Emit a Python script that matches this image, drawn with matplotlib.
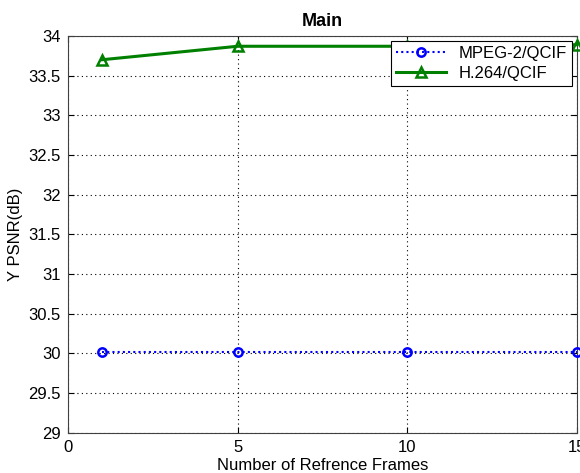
import matplotlib
matplotlib.use("Agg")
from matplotlib import pyplot as plt

plt.rcParams['font.family'] = ['Liberation Sans', 'DejaVu Sans']

frames = [1, 5, 10, 15]
mpeg2_psnr = [30.02, 30.02, 30.02, 30.02]
h264_psnr = [33.70, 33.87, 33.87, 33.89]

fig = plt.figure(figsize=(5.8, 4.73), dpi=100)
ax = fig.add_axes([0.117, 0.085, 0.878, 0.839])

ax.plot(frames, mpeg2_psnr, color='blue', linestyle=(0, (1, 1.5)), linewidth=1.5,
        marker='o', markersize=6, markerfacecolor='none', markeredgewidth=1.8,
        label='MPEG-2/QCIF', clip_on=False, zorder=3)
ax.plot(frames, h264_psnr, color='green', linestyle='-', linewidth=2.2,
        marker='^', markersize=7, markerfacecolor='none', markeredgewidth=1.8,
        label='H.264/QCIF', clip_on=False, zorder=3)

ax.set_xlim(0, 15)
ax.set_ylim(29, 34)
ax.set_xticks([0, 5, 10, 15])
ax.set_yticks([29, 29.5, 30, 30.5, 31, 31.5, 32, 32.5, 33, 33.5, 34])
ax.set_yticklabels(['29', '29.5', '30', '30.5', '31', '31.5', '32', '32.5', '33', '33.5', '34'])
ax.tick_params(labelsize=12, direction='in', length=4, pad=5)
ax.tick_params(top=True, right=True)
ax.grid(True, color='black', linestyle=(0, (1, 3)), linewidth=0.8)
for s in ax.spines.values():
    s.set_color('#404040')

ax.set_title('Main', fontsize=13, fontweight='bold', pad=7)
ax.set_xlabel('Number of Refrence Frames', fontsize=12, labelpad=2)
ax.set_ylabel('Y PSNR(dB)', fontsize=12, labelpad=4)

leg = ax.legend(loc='upper right', fontsize=12, fancybox=False, framealpha=1,
                edgecolor='black', borderaxespad=0.3, handlelength=3,
                borderpad=0.3, labelspacing=0.3)
leg.get_frame().set_linewidth(0.8)

fig.savefig('out.png', dpi=100)
